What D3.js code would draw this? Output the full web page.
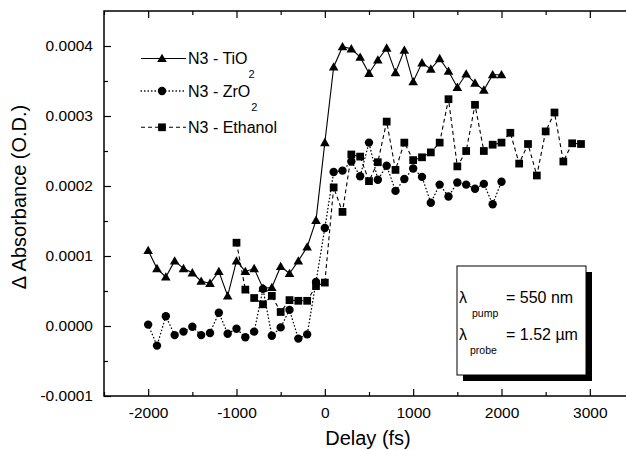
<!DOCTYPE html>
<html>
<head>
<meta charset="utf-8">
<script src="https://cdn.jsdelivr.net/npm/d3@7"></script>
<style>
  body { margin: 0; background: #fff; }
  svg { display: block; font-family: "Liberation Sans", Arial, Helvetica, sans-serif; }
</style>
</head>
<body>
<div id="container"></div>
<script>
/**
 * DATA (absorbance values in units of 1e-4 O.D.)
 * */
const delayA = [-2000, -1900, -1800, -1700, -1600, -1500, -1400, -1300, -1200, -1100,
  -1000, -900, -800, -700, -600, -500, -400, -300, -200, -100,
  0, 100, 200, 300, 400, 500, 600, 700, 800, 900,
  1000, 1100, 1200, 1300, 1400, 1500, 1600, 1700, 1800, 1900, 2000];
const tio2 = [1.08, 0.82, 0.70, 0.93, 0.82, 0.76, 0.64, 0.61, 0.78, 0.43,
  0.93, 0.78, 0.82, 0.54, 0.55, 0.85, 0.75, 0.93, 1.13, 1.51,
  2.62, 3.70, 3.99, 3.96, 3.84, 3.61, 3.80, 3.97, 3.62, 3.94,
  3.49, 3.76, 3.67, 3.82, 3.64, 3.41, 3.60, 3.47, 3.37, 3.59, 3.59];
const zro2 = [0.02, -0.28, 0.14, -0.13, -0.08, -0.01, -0.13, -0.10, 0.19, -0.11,
  -0.04, -0.16, -0.08, 0.53, -0.14, -0.02, 0.23, -0.18, -0.12, 0.63,
  1.40, 2.20, 2.22, 2.35, 2.14, 2.62, 2.09, 2.29, 1.93, 2.10,
  2.25, 2.13, 1.76, 2.02, 1.85, 2.05, 2.02, 1.96, 2.03, 1.74, 2.06];
const delayB = [-1000, -900, -800, -700, -600, -500, -400, -300, -200, -100,
  0, 100, 200, 300, 400, 500, 600, 700, 800, 900,
  1000, 1100, 1200, 1300, 1400, 1500, 1600, 1700, 1800, 1900,
  2000, 2100, 2200, 2300, 2400, 2500, 2600, 2700, 2800, 2900];
const ethanol = [1.19, 0.52, 0.40, 0.31, 0.43, 0.20, 0.37, 0.36, 0.36, 0.57,
  0.62, 1.98, 1.63, 2.45, 2.42, 2.07, 2.34, 2.92, 2.23, 2.62,
  2.37, 2.41, 2.48, 2.62, 3.24, 2.28, 2.50, 3.16, 2.50, 2.59,
  2.62, 2.76, 2.32, 2.60, 2.15, 2.78, 3.05, 2.35, 2.61, 2.60];

const xMajor = [-2000, -1000, 0, 1000, 2000, 3000];
const xMinor = [-2500, -1500, -500, 500, 1500, 2500, 3500];
const yMajor = [-1, 0, 1, 2, 3, 4];
const yMinor = [-0.5, 0.5, 1.5, 2.5, 3.5];

const seriesNames = ["N3 - TiO", "N3 - ZrO", "N3 - Ethanol"];
const seriesSubs = ["2", "2", ""];

/**
 * LAYOUT
 * */
const width = 626, height = 450;
const plot = { left: 104, right: 634, top: 11, bottom: 396 };

const svg = d3.select("#container").append("svg")
  .attr("width", width)
  .attr("height", height);

const x = d3.scaleLinear().domain([-2500, 3500]).range([plot.left, plot.right]);
const y = d3.scaleLinear().domain([-1, 4.5]).range([plot.bottom, plot.top]);

// axes - ticks point inward
function drawAxis(axisFn, pos, values, size, labels, pad) {
  const g = svg.append("g")
    .attr("transform", pos)
    .call(axisFn.tickValues(values).tickSize(-size).tickPadding(pad || 11)
      .tickFormat(labels ? labels : ""));
  g.select(".domain").remove();
  g.selectAll("line").attr("stroke", "#000").attr("stroke-width", 1.2);
  g.selectAll("text").attr("fill", "#000").style("font-size", "15.5px");
  return g;
}

drawAxis(d3.axisBottom(x), `translate(0,${plot.bottom})`, xMajor, 7, d => String(d));
drawAxis(d3.axisBottom(x), `translate(0,${plot.bottom})`, xMinor, 4);
drawAxis(d3.axisTop(x), `translate(0,${plot.top})`, xMajor, 7);
drawAxis(d3.axisTop(x), `translate(0,${plot.top})`, xMinor, 4);
drawAxis(d3.axisLeft(y), `translate(${plot.left},0)`, yMajor, 7, d => (d * 1e-4).toFixed(4));
drawAxis(d3.axisLeft(y), `translate(${plot.left},0)`, yMinor, 4);
drawAxis(d3.axisRight(y), `translate(${plot.right},0)`, yMajor, 7);
drawAxis(d3.axisRight(y), `translate(${plot.right},0)`, yMinor, 4);

svg.append("rect")
  .attr("x", plot.left).attr("y", plot.top)
  .attr("width", plot.right - plot.left).attr("height", plot.bottom - plot.top)
  .attr("fill", "none").attr("stroke", "#000").attr("stroke-width", 1.5);

// axis titles
svg.append("text")
  .attr("x", (plot.left + plot.right) / 2 - 1).attr("y", 445)
  .attr("text-anchor", "middle").style("font-size", "20px")
  .text("Delay (fs)");

svg.append("text")
  .attr("transform", "translate(26,197) rotate(-90)")
  .attr("text-anchor", "middle").style("font-size", "20px")
  .text("\u0394 Absorbance (O.D.)");

// series
const line = d3.line().x(d => x(d[0])).y(d => y(d[1]));
const triangle = d3.symbol().type(d3.symbolTriangle).size(40);
const square = d3.symbol().type(d3.symbolSquare).size(60);

const tiData = delayA.map((t, i) => [t, tio2[i]]);
const zrData = delayA.map((t, i) => [t, zro2[i]]);
const etData = delayB.map((t, i) => [t, ethanol[i]]);

function drawSeries(data, dash, marker) {
  svg.append("path")
    .datum(data)
    .attr("d", line)
    .attr("fill", "none")
    .attr("stroke", "#000")
    .attr("stroke-width", dash === "dot" ? 1.3 : 1.1)
    .attr("stroke-linecap", dash === "dot" ? "round" : "butt")
    .attr("stroke-dasharray", dash === "dot" ? "0.5,3" : dash);
  const g = svg.append("g");
  if (marker === "circle") {
    g.selectAll("circle").data(data).join("circle")
      .attr("cx", d => x(d[0])).attr("cy", d => y(d[1])).attr("r", 4.2).attr("fill", "#000");
  } else {
    g.selectAll("path").data(data).join("path")
      .attr("transform", d => `translate(${x(d[0])},${y(d[1]) + (marker === "triangle" ? 0.8 : 0)})`)
      .attr("d", marker === "triangle" ? triangle : square)
      .attr("fill", "#000");
  }
}

drawSeries(etData, "4,3", "square");
drawSeries(zrData, "dot", "circle");
drawSeries(tiData, null, "triangle");

// legend
const legendY = [58.5, 91, 127.3];
const legendDash = [null, "dot", "4,3"];
const legendMarker = ["triangle", "circle", "square"];
legendY.forEach((ly, i) => {
  svg.append("line")
    .attr("x1", 141).attr("x2", 186).attr("y1", ly).attr("y2", ly)
    .attr("stroke", "#000").attr("stroke-width", legendDash[i] === "dot" ? 1.3 : 1.1)
    .attr("stroke-linecap", legendDash[i] === "dot" ? "round" : "butt")
    .attr("stroke-dasharray", legendDash[i] === "dot" ? "0.5,3" : legendDash[i]);
  if (legendMarker[i] === "circle") {
    svg.append("circle").attr("cx", 162).attr("cy", ly).attr("r", 4.2).attr("fill", "#000");
  } else {
    svg.append("path")
      .attr("transform", `translate(162,${ly + (legendMarker[i] === "triangle" ? 0.8 : 0)})`)
      .attr("d", legendMarker[i] === "triangle" ? triangle : square)
      .attr("fill", "#000");
  }
  const t = svg.append("text")
    .attr("x", 188).attr("y", ly + 5.7)
    .style("font-size", "16px")
    .text(seriesNames[i]);
  if (seriesSubs[i]) {
    t.append("tspan").attr("dx", 1).attr("dy", 14).style("font-size", "11px").text(seriesSubs[i]);
  }
});

// inset box with wavelengths
const box = { x: 457, y: 266, w: 129, h: 109 };
svg.append("rect")
  .attr("x", box.x + 6).attr("y", box.y + 6).attr("width", box.w).attr("height", box.h)
  .attr("fill", "#000");
svg.append("rect")
  .attr("x", box.x).attr("y", box.y).attr("width", box.w).attr("height", box.h)
  .attr("fill", "#fff").attr("stroke", "#000").attr("stroke-width", 1);

const insetRows = [
  { base: 303, sub: "pump", subX: 472, val: "= 550 nm" },
  { base: 340, sub: "probe", subX: 470, val: "= 1.52 \u00b5m" }
];
insetRows.forEach(r => {
  svg.append("text").attr("x", 459).attr("y", r.base).style("font-size", "16px").text("\u03bb");
  svg.append("text").attr("x", r.subX).attr("y", r.base + 14).style("font-size", "10.5px").text(r.sub);
  svg.append("text").attr("x", 506).attr("y", r.base).style("font-size", "16px").text(r.val);
});
</script>
</body>
</html>
